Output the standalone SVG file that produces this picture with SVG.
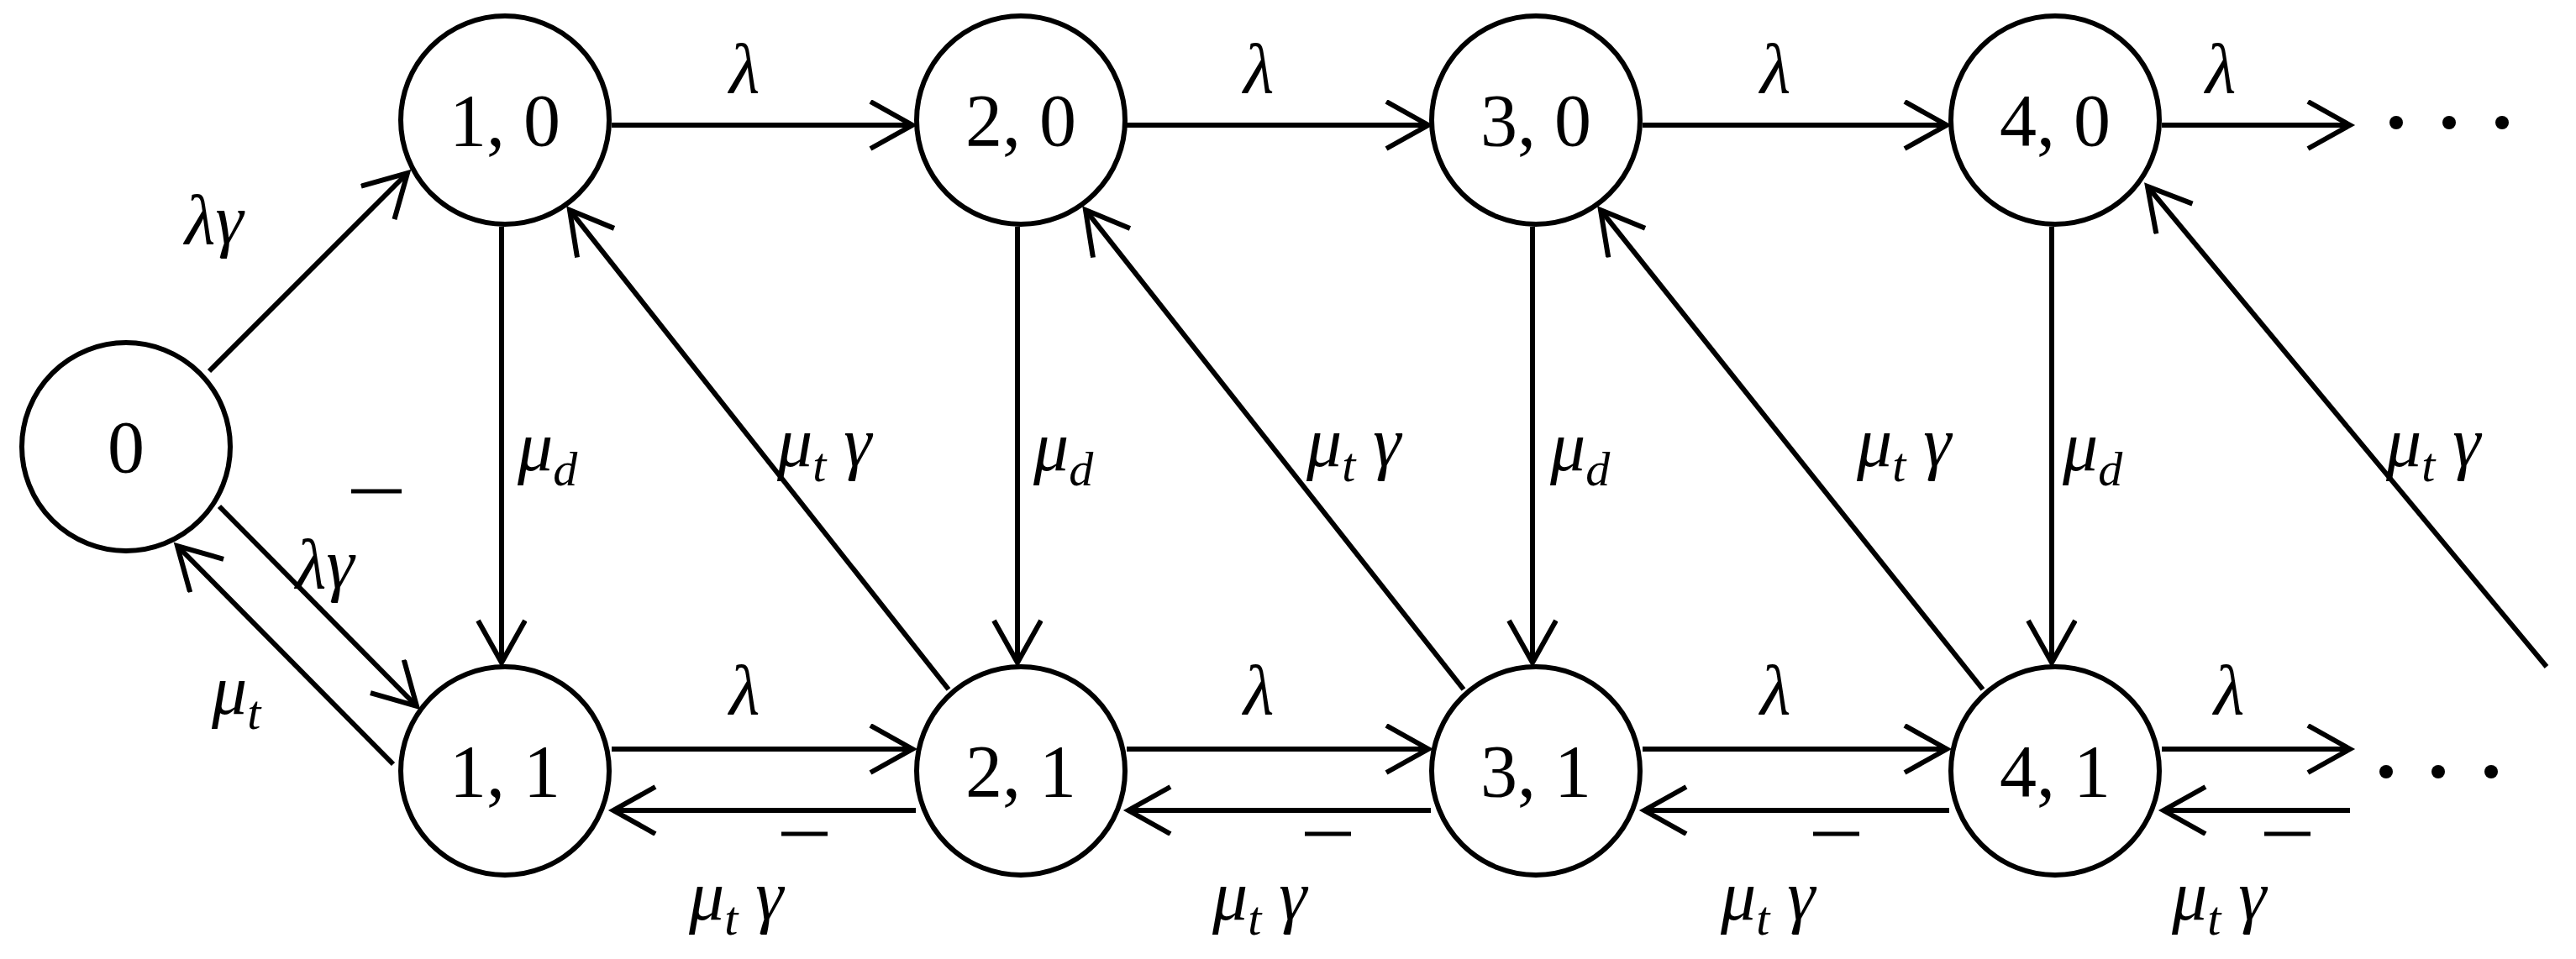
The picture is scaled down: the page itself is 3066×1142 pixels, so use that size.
<svg xmlns="http://www.w3.org/2000/svg" width="3066" height="1142" viewBox="0 0 3066 1142">
<style>
.n circle{fill:#fff;stroke:#000;stroke-width:6}
.n text{font-family:"Liberation Serif",serif;font-size:88px;text-anchor:middle}
.e line{stroke:#000;stroke-width:6;marker-end:url(#a)}
.e line.p{marker-end:none}
.l{font-family:"Liberation Serif",serif;font-style:italic;font-size:84px}
.s{font-size:58px}
.d{fill:#000}
</style>
<defs>
<marker id="a" markerUnits="userSpaceOnUse" markerWidth="70" markerHeight="70" refX="52" refY="30" orient="auto">
<path d="M2,2 L52,30 L2,58" fill="none" stroke="#000" stroke-width="6"/>
</marker>
</defs>
<g class="e" id="edges">
<line x1="249" y1="442" x2="485" y2="206"/>
<line x1="261" y1="603" x2="496" y2="841"/>
<line x1="468" y1="910" x2="211" y2="650"/>
<line x1="728" y1="149" x2="1086" y2="149"/>
<line x1="1341" y1="149" x2="1700" y2="149"/>
<line x1="1955" y1="149" x2="2317" y2="149"/>
<line x1="2573" y1="149" x2="2797" y2="149"/>
<line x1="597" y1="270" x2="597" y2="789"/>
<line x1="1211" y1="270" x2="1211" y2="789"/>
<line x1="1824" y1="270" x2="1824" y2="789"/>
<line x1="2442" y1="270" x2="2442" y2="789"/>
<line x1="728" y1="892" x2="1086" y2="892"/>
<line x1="1341" y1="892" x2="1700" y2="892"/>
<line x1="1955" y1="892" x2="2317" y2="892"/>
<line x1="2573" y1="892" x2="2797" y2="892"/>
<line x1="1090" y1="965" x2="730" y2="965"/>
<line x1="1703" y1="965" x2="1343" y2="965"/>
<line x1="2320" y1="965" x2="1957" y2="965"/>
<line x1="2797" y1="965" x2="2575" y2="965"/>
<line x1="1129" y1="821" x2="678" y2="250"/>
<line x1="1742" y1="821" x2="1292" y2="250"/>
<line x1="2360" y1="821" x2="1905" y2="250"/>
<line x1="3031" y1="794" x2="2556" y2="222"/>
</g>
<g class="n" id="n0"><circle cx="150" cy="532" r="124"/><text x="150" y="562">0</text></g>
<g class="n" id="n10"><circle cx="601" cy="143" r="124"/><text x="601" y="173">1, 0</text></g>
<g class="n" id="n20"><circle cx="1215" cy="143" r="124"/><text x="1215" y="173">2, 0</text></g>
<g class="n" id="n30"><circle cx="1828" cy="143" r="124"/><text x="1828" y="173">3, 0</text></g>
<g class="n" id="n40"><circle cx="2446" cy="143" r="124"/><text x="2446" y="173">4, 0</text></g>
<g class="n" id="n11"><circle cx="601" cy="918" r="124"/><text x="601" y="948">1, 1</text></g>
<g class="n" id="n21"><circle cx="1215" cy="918" r="124"/><text x="1215" y="948">2, 1</text></g>
<g class="n" id="n31"><circle cx="1828" cy="918" r="124"/><text x="1828" y="948">3, 1</text></g>
<g class="n" id="n41"><circle cx="2446" cy="918" r="124"/><text x="2446" y="948">4, 1</text></g>
<g id="dots">
<circle class="d" cx="2852" cy="146" r="8"/><circle class="d" cx="2915" cy="146" r="8"/><circle class="d" cx="2978" cy="146" r="8"/>
<circle class="d" cx="2840" cy="919" r="8"/><circle class="d" cx="2902" cy="919" r="8"/><circle class="d" cx="2965" cy="919" r="8"/>
</g>
<g id="labels">
<text class="l" x="220" y="290">λγ</text>
<text class="l" x="352" y="700">λγ</text><line x1="418" y1="585" x2="478" y2="585" stroke="#000" stroke-width="5"/>
<text class="l" x="252" y="850">μ<tspan class="s" dy="18">t</tspan></text>
<text class="l" x="868" y="110">λ</text>
<text class="l" x="1480" y="110">λ</text>
<text class="l" x="2095" y="110">λ</text>
<text class="l" x="2625" y="110">λ</text>
<text class="l" x="868" y="850">λ</text>
<text class="l" x="1480" y="850">λ</text>
<text class="l" x="2095" y="850">λ</text>
<text class="l" x="2635" y="850">λ</text>
<text class="l" x="616" y="560">μ<tspan class="s" dy="18">d</tspan></text>
<text class="l" x="1230" y="560">μ<tspan class="s" dy="18">d</tspan></text>
<text class="l" x="1845" y="560">μ<tspan class="s" dy="18">d</tspan></text>
<text class="l" x="2455" y="560">μ<tspan class="s" dy="18">d</tspan></text>
<text class="l" x="925" y="555">μ<tspan class="s" dy="18">t</tspan><tspan dy="-18"> γ</tspan></text>
<text class="l" x="1555" y="555">μ<tspan class="s" dy="18">t</tspan><tspan dy="-18"> γ</tspan></text>
<text class="l" x="2210" y="555">μ<tspan class="s" dy="18">t</tspan><tspan dy="-18"> γ</tspan></text>
<text class="l" x="2840" y="555">μ<tspan class="s" dy="18">t</tspan><tspan dy="-18"> γ</tspan></text>
<text class="l" x="820" y="1095">μ<tspan class="s" dy="18">t</tspan><tspan dy="-18"> γ</tspan></text><line x1="930" y1="993" x2="985" y2="993" stroke="#000" stroke-width="5"/>
<text class="l" x="1443" y="1095">μ<tspan class="s" dy="18">t</tspan><tspan dy="-18"> γ</tspan></text><line x1="1553" y1="993" x2="1608" y2="993" stroke="#000" stroke-width="5"/>
<text class="l" x="2048" y="1095">μ<tspan class="s" dy="18">t</tspan><tspan dy="-18"> γ</tspan></text><line x1="2158" y1="993" x2="2213" y2="993" stroke="#000" stroke-width="5"/>
<text class="l" x="2585" y="1095">μ<tspan class="s" dy="18">t</tspan><tspan dy="-18"> γ</tspan></text><line x1="2695" y1="993" x2="2750" y2="993" stroke="#000" stroke-width="5"/>
</g>
</svg>
